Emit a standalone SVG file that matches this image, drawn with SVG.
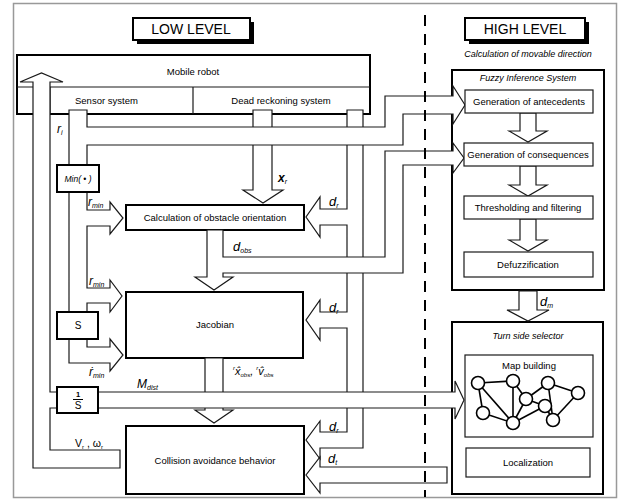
<svg xmlns="http://www.w3.org/2000/svg" width="621" height="502" viewBox="0 0 621 502">
<style>
text{font-family:"Liberation Sans",Arial,sans-serif;fill:#000}
.t{font-size:9.5px;text-anchor:middle}
.it{font-style:italic}
.lbl{font-size:13px;font-style:italic}
.sub{font-size:7px}
.pipe{fill:#fff;stroke:#1a1a1a;stroke-width:1.2;stroke-linejoin:miter}
.box{fill:#fff;stroke:#000;stroke-width:2}
.obox{fill:none;stroke:#000;stroke-width:2}
.ibox{fill:#fff;stroke:#1a1a1a;stroke-width:1.2}
.hdr{font-size:14px;text-anchor:middle}
.edge{stroke:#000;stroke-width:1.6}
.node{fill:#fff;stroke:#000;stroke-width:1.6}
</style>
<rect width="621" height="502" fill="#fff"/>
<rect x="13.5" y="3.5" width="603" height="494" fill="none" stroke="#999" stroke-width="1.5"/>

<g id="low-level-title">
<rect x="137" y="22" width="117" height="22" fill="#000"/>
<rect x="133" y="18" width="117" height="22" class="box"/>
<text x="191" y="34" class="hdr">LOW LEVEL</text>
</g>
<g id="high-level-title">
<rect x="469" y="22" width="120" height="22" fill="#000"/>
<rect x="465" y="18" width="120" height="22" class="box"/>
<text x="525" y="34" class="hdr">HIGH LEVEL</text>
</g>

<g id="mobile-robot">
<rect x="17" y="55" width="353" height="59" class="box"/>
<line x1="17" y1="87" x2="370" y2="87" stroke="#1a1a1a" stroke-width="1.2"/>
<line x1="50" y1="87" x2="50" y2="114" stroke="#1a1a1a" stroke-width="1.2"/>
<line x1="193" y1="87" x2="193" y2="114" stroke="#1a1a1a" stroke-width="1.2"/>
<text x="193" y="75" class="t">Mobile robot</text>
<text x="75" y="104" style="font-size:9.5px">Sensor system</text>
<text x="281" y="104" class="t">Dead reckoning system</text>
</g>

<g id="calc-orientation">
<rect x="126" y="205" width="178" height="25" class="box"/>
<text x="215" y="221" class="t">Calculation of obstacle orientation</text>
</g>
<g id="jacobian">
<rect x="126" y="292" width="177" height="66" class="box"/>
<text x="215" y="328" class="t">Jacobian</text>
</g>
<g id="collision-avoidance">
<rect x="126" y="426" width="178" height="68" class="box"/>
<text x="215" y="464" class="t">Collision avoidance behavior</text>
</g>

<g id="fis">
<rect x="452" y="70" width="152" height="220" class="obox"/>
<text x="528" y="57" class="t it" style="font-size:9px">Calculation of movable direction</text>
<text x="528" y="81" class="t it" style="font-size:9px">Fuzzy Inference System</text>
</g>
<g id="turn-side-selector">
<rect x="452" y="322" width="151" height="172" class="obox"/>
<text x="528" y="339" class="t it" style="font-size:9px">Turn side selector</text>
</g>

<g id="connectors">
<path id="xr-pipe" class="pipe" d="M253,110 H272 V190 H283 L263,203 L243,190 H253 Z"/>
<path id="dr-pipe" class="pipe" d="M347,110 H363 V448 H320 V459 L306,440 L320,421 V432 H347 V328 H320 V340 L306,320 L320,300 V312 H347 V225 H320 V237 L306,217 L320,197 V209 H347 Z"/>
<path id="jac-out" class="pipe" d="M205,358 H223 V410 H233 L214,423 L195,410 H205 Z"/>
<path id="dt-pipe" class="pipe" d="M447,467 V483 H320 V493 L306,475 L320,457 V467 Z"/>
<path id="sensor-pipe" class="pipe" d="M69,110 H87 V127 H385 V96 H453 V86 L465,105 L453,124 V114 H403 V145 H87 V210 H110 V202 L123,218 L110,234 V226 H87 V288 H110 V280 L122,296 L110,312 V303 H87 V347 H110 V339 L123,355 L110,371 V363 H69 Z"/>
<path id="dobs-pipe" class="pipe" d="M207,230 H223 V257 H385 V151 H453 V143 L464,158 L453,173 V165 H403 V273 H223 V277 H233 L214,290 L195,277 H207 Z"/>
<path id="mdist-pipe" class="pipe" d="M98,392 H455 V381 L464,400 L455,419 V408 H98 Z"/>
<path id="vr-pipe" class="pipe" d="M33,468 V82 H20 L41.5,73 L63,82 H50 V392 H58 V408 H50 V450 H120 V468 Z"/>
<path id="fis-a1" class="pipe" d="M520,113 H536 V131 H547 L528,142 L509,131 H520 Z"/>
<path id="fis-a2" class="pipe" d="M520,166 H536 V185 H547 L528,196 L509,185 H520 Z"/>
<path id="fis-a3" class="pipe" d="M520,219 H536 V240 H547 L528,251 L509,240 H520 Z"/>
<path id="dm-pipe" class="pipe" d="M519,291 H537 V310 H549 L528,321 L507,310 H519 Z"/>
</g>

<g id="min-box">
<rect x="57" y="165" width="42" height="27" class="box"/>
<text x="78" y="182" class="it" style="font-size:8.5px;text-anchor:middle">Min( • )</text>
</g>
<g id="s-box">
<rect x="57" y="312" width="41" height="27" class="box"/>
<text x="78" y="329" style="font-size:10px;text-anchor:middle">S</text>
</g>
<g id="inv-s-box">
<rect x="57" y="387" width="41" height="26" class="box"/>
<text x="78" y="397" style="font-size:7.5px;text-anchor:middle;font-weight:bold">1</text>
<line x1="73" y1="399.5" x2="83" y2="399.5" stroke="#000" stroke-width="1"/>
<text x="78" y="409" style="font-size:10px;text-anchor:middle">S</text>
</g>

<g id="labels">
<text x="57" y="133" class="lbl" style="font-size:12px">r<tspan class="sub" dy="2">i</tspan></text>
<text x="88" y="206" class="lbl" style="font-size:12px">r<tspan class="sub" dy="2">min</tspan></text>
<text x="89" y="285" class="lbl" style="font-size:12px">r<tspan class="sub" dy="2">min</tspan></text>
<text x="89" y="376" class="lbl" style="font-size:12px">ṙ<tspan class="sub" dy="2">min</tspan></text>
<text x="137" y="388" class="lbl" style="font-size:12px">M<tspan class="sub" dy="2">dist</tspan></text>
<text x="278" y="182" class="lbl" style="font-weight:bold;font-size:12px">x<tspan class="sub" dy="2" style="font-weight:normal">r</tspan></text>
<text x="329" y="206" class="lbl">d<tspan class="sub" dy="2">r</tspan></text>
<text x="329" y="312" class="lbl">d<tspan class="sub" dy="2">r</tspan></text>
<text x="329" y="431" class="lbl">d<tspan class="sub" dy="2">r</tspan></text>
<text x="328" y="463" class="lbl">d<tspan class="sub" dy="2">t</tspan></text>
<text x="233" y="251" class="lbl">d<tspan class="sub" dy="2">obs</tspan></text>
<text x="540" y="306" class="lbl">d<tspan class="sub" dy="2">m</tspan></text>
<text x="233" y="375" class="it" style="font-size:11px"><tspan style="font-size:6px" dy="-5">r</tspan><tspan dy="5">x̂</tspan><tspan style="font-size:6px" dy="2">obs</tspan><tspan dy="-2">, </tspan><tspan style="font-size:6px" dy="-5">r</tspan><tspan dy="5">v̂</tspan><tspan style="font-size:6px" dy="2">obs</tspan></text>
<text x="75" y="447" style="font-size:10.5px">V<tspan style="font-size:6px" dy="2">r</tspan><tspan dy="-2"> ,  ω</tspan><tspan style="font-size:6px" dy="2">r</tspan></text>
</g>

<g id="antecedents">
<rect x="465" y="90" width="128" height="23" class="ibox"/>
<text x="529" y="105" class="t">Generation of antecedents</text>
</g>
<g id="consequences">
<rect x="464" y="143" width="129" height="23" class="ibox"/>
<text x="528" y="158" class="t">Generation of consequences</text>
</g>
<g id="thresholding">
<rect x="464" y="196" width="129" height="23" class="ibox"/>
<text x="528" y="211" class="t">Thresholding and filtering</text>
</g>
<g id="defuzzification">
<rect x="464" y="252" width="129" height="25" class="ibox"/>
<text x="528" y="268" class="t">Defuzzification</text>
</g>

<g id="map-building">
<rect x="465" y="355" width="128" height="82" class="ibox"/>
<text x="529" y="369" class="t">Map building</text>
<line x1="478" y1="383" x2="513" y2="381" class="edge"/>
<line x1="478" y1="383" x2="483" y2="413" class="edge"/>
<line x1="478" y1="383" x2="513" y2="423" class="edge"/>
<line x1="513" y1="381" x2="513" y2="423" class="edge"/>
<line x1="513" y1="381" x2="526" y2="399" class="edge"/>
<line x1="526" y1="399" x2="548" y2="383" class="edge"/>
<line x1="548" y1="383" x2="578" y2="393" class="edge"/>
<line x1="548" y1="383" x2="553" y2="420" class="edge"/>
<line x1="578" y1="393" x2="553" y2="420" class="edge"/>
<line x1="526" y1="399" x2="545" y2="406" class="edge"/>
<line x1="545" y1="406" x2="513" y2="423" class="edge"/>
<line x1="526" y1="399" x2="513" y2="423" class="edge"/>
<line x1="483" y1="413" x2="513" y2="423" class="edge"/>
<line x1="545" y1="406" x2="553" y2="420" class="edge"/>
<circle cx="478" cy="383" r="6.5" class="node"/>
<circle cx="513" cy="381" r="6.5" class="node"/>
<circle cx="548" cy="383" r="6.5" class="node"/>
<circle cx="578" cy="393" r="6.5" class="node"/>
<circle cx="526" cy="399" r="6.5" class="node"/>
<circle cx="545" cy="406" r="6.5" class="node"/>
<circle cx="483" cy="413" r="6.5" class="node"/>
<circle cx="513" cy="423" r="6.5" class="node"/>
<circle cx="553" cy="420" r="6.5" class="node"/>
</g>
<g id="localization">
<rect x="466" y="448" width="124" height="29" class="ibox"/>
<text x="528" y="466" class="t">Localization</text>
</g>

<line id="level-divider" x1="425" y1="15" x2="425" y2="497" stroke="#000" stroke-width="2" stroke-dasharray="11,8"/>
</svg>
